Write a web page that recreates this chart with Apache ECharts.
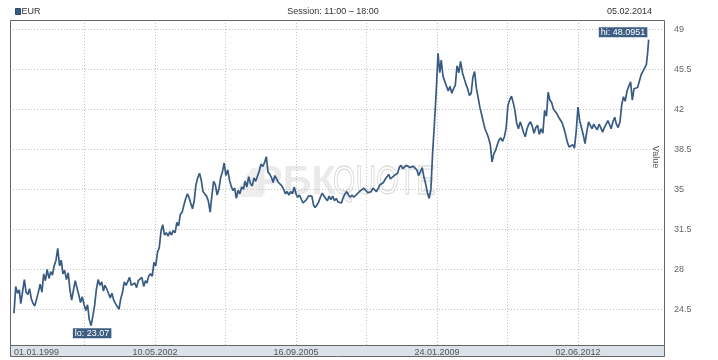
<!DOCTYPE html>
<html><head><meta charset="utf-8">
<script src="https://cdn.jsdelivr.net/npm/echarts@6/dist/echarts.min.js"></script>
<style>html,body{margin:0;padding:0;background:#fff}#c{width:718px;height:360px}</style>
</head><body><div id="c"></div>
<script>
// ---- texts ----
const seriesName = 'EUR';
const sessionText = 'Session: 11:00 \u2013 18:00';
const asOfText = '05.02.2014';
const axisName = 'Value';

// ---- data: semi-monthly closes (1st and 16th of each month) ----
const years = [1999,2000,2001,2002,2003,2004,2005,2006,2007,2008,2009,2010,2011,2012,2013];
const v1999 = [24.15,26.5,25.9,26.2,25.0,26.0,27.1,26.0,25.8,26.3,25.4,25.0,24.8,24.7,26.0,26.7,26.0,27.6,27.0,28.0,27.2,27.8,27.5,28.3];
const v2000 = [28.8,29.84,28.3,28.8,27.6,27.9,27.1,27.7,26.2,25.3,26.2,27.0,26.4,25.8,25.1,25.6,24.9,24.4,24.9,23.6,23.07,23.9,24.8,26.2];
const v2001 = [27.1,26.6,26.9,26.1,26.6,26.3,25.9,25.5,25.9,25.3,25.0,25.1,24.5,25.4,26.0,26.9,26.6,26.7,27.3,26.6,26.5,26.8,26.4,27.0];
const v2002 = [27.0,27.3,26.5,27.0,26.8,27.4,27.6,27.4,28.6,28.3,29.5,29.9,31.3,31.9,31.0,31.2,30.9,31.3,31.0,31.4,31.2,32.1,31.8,32.8];
const v2003 = [33.0,33.6,34.2,34.6,34.3,33.8,33.3,34.0,35.4,36.0,36.4,35.8,34.8,34.6,34.4,34.0,33.0,34.4,35.7,35.4,34.5,35.0,36.0,36.5];
const v2004 = [37.3,36.2,36.7,35.8,35.3,34.9,35.1,34.2,34.9,34.6,35.2,35.0,35.7,35.2,36.1,35.5,35.3,36.0,35.7,35.6,36.6,37.2,37.0,37.3];
const v2005 = [37.85,36.5,36.3,36.0,35.6,36.2,35.9,35.6,35.5,35.3,35.0,34.6,34.8,34.5,34.8,34.6,35.2,34.6,34.3,34.5,34.4,33.8,33.9,34.1];
const v2006 = [34.4,34.3,34.4,33.6,33.4,33.6,33.9,34.3,34.65,34.5,34.2,34.0,34.4,34.1,34.4,34.0,34.2,33.9,34.0,33.8,34.3,34.6,34.8,34.5];
const v2007 = [34.3,34.5,34.3,34.4,34.6,34.6,34.9,35.0,35.1,34.9,34.7,34.6,34.8,35.1,35.2,34.8,35.1,35.4,35.3,35.6,35.9,36.0,36.3,35.9];
const v2008 = [35.8,36.2,36.1,36.4,36.9,37.1,36.8,36.7,37.1,37.2,36.9,36.8,37.0,36.9,36.7,36.2,36.3,36.9,36.1,35.5,34.7,34.2,35.0,38.2];
const v2009 = [40.8,43.5,46.9,45.2,46.3,44.9,45.0,44.0,43.6,44.0,43.4,43.8,44.1,45.8,45.2,46.2,45.2,45.3,44.2,43.8,43.2,43.4,44.8,45.3];
const v2010 = [43.8,43.0,42.1,41.5,40.9,40.3,39.9,39.5,38.9,37.4,38.1,38.4,38.9,39.3,39.5,39.2,39.6,40.4,42.3,42.8,43.15,42.6,41.9,40.8];
const v2011 = [40.3,40.9,40.4,39.9,39.6,40.3,40.7,40.9,40.5,39.9,40.4,40.6,39.8,40.3,39.9,41.9,41.4,43.5,42.8,42.6,42.0,41.8,41.6,41.3];
const v2012 = [41.3,40.8,40.3,39.7,39.1,38.7,38.6,38.9,38.6,40.0,42.2,41.0,40.9,39.8,39.0,40.0,40.9,40.6,40.3,40.7,40.4,40.2,40.7,40.4];
const v2013 = [40.0,40.4,40.7,41.0,40.7,40.3,40.9,41.3,40.7,40.4,40.9,42.4,43.1,42.7,43.6,44.0,44.4,42.8,43.8,43.8,43.9,44.0,45.0,45.3];
const dates2014 = ['2014-01-01','2014-01-16','2014-01-27','2014-02-05'];
const values2014 = [45.2,45.9,46.9,48.0951];

// ---- axis ticks ----
const yTicks = [24.5, 28, 31.5, 35, 38.5, 42, 45.5, 49];
const xGridDates = ['2000-09-04','2002-05-10','2004-01-13','2005-09-16','2007-05-22','2009-01-24','2010-09-28','2012-06-02'];
const xLabelDates = ['1999-01-01','2002-05-10','2005-09-16','2009-01-24','2012-06-02'];
const xLabelTexts = ['01.01.1999','10.05.2002','16.09.2005','24.01.2009','02.06.2012'];

// ---- build series (x = days since first date) ----
const DAY = 86400000;
const parseTs = d => echarts.number.parseDate(d).getTime();
const t0 = parseTs('1999-01-01');
const dayOf = d => Math.round((parseTs(d) - t0) / DAY);

const yearValues = [v1999,v2000,v2001,v2002,v2003,v2004,v2005,v2006,v2007,v2008,v2009,v2010,v2011,v2012,v2013];
const pad = n => (n < 10 ? '0' : '') + n;
const points = [];
years.forEach((y, k) => {
  yearValues[k].forEach((v, i) => {
    points.push([dayOf(y + '-' + pad(Math.floor(i / 2) + 1) + '-' + (i % 2 ? '16' : '01')), v]);
  });
});
dates2014.forEach((d, i) => points.push([dayOf(d), values2014[i]]));

const xMin = -34.75, xMax = 5647.3;
const yMin = 21.377, yMax = 49.81;
const gridDays = xGridDates.map(dayOf);
const labelDays = xLabelDates.map(dayOf);

const FONT = "'Liberation Sans', Arial, sans-serif";
const LINE = '#385b83';
const BOX = '#3d5e82';

const chart = echarts.init(document.getElementById('c'), null, {renderer: 'canvas'});
chart.setOption({
  animation: false,
  grid: {left: 10, top: 20, right: 54, bottom: 15, show: false, containLabel: false, outerBoundsMode: 'none'},
  xAxis: {
    type: 'value', min: xMin, max: xMax,
    axisLine: {show: false},
    axisTick: {show: false, customValues: gridDays},
    splitLine: {show: true, lineStyle: {color: '#c0c0c0', width: 1, type: [1, 2]}},
    axisLabel: {
      customValues: labelDays, margin: 3, fontSize: 9, color: '#555', fontFamily: FONT,
      formatter: function (val) {
        let idx = -1;
        labelDays.forEach((d, i) => { if (Math.abs(d - val) < 0.5) idx = i; });
        const s = idx >= 0 ? xLabelTexts[idx] : '';
        return idx === 0 ? '{first|' + s + '}' : s;
      },
      rich: {first: {padding: [0, 0, 0, 45], fontSize: 9, color: '#555', fontFamily: FONT}}
    }
  },
  yAxis: {
    type: 'value', position: 'right', min: yMin, max: yMax,
    axisLine: {show: false},
    axisTick: {show: false, customValues: yTicks},
    splitLine: {show: true, lineStyle: {color: '#c0c0c0', width: 1, type: [1, 2]}},
    axisLabel: {customValues: yTicks, margin: 10, fontSize: 9, color: '#666', fontFamily: FONT}
  },
  series: [{
    type: 'line', name: seriesName, data: points, showSymbol: false, symbol: 'none',
    lineStyle: {color: LINE, width: 1.7}, z: 5
  }]
});

// lo / hi labels placed via the chart's own scales
let lo = points[0], hi = points[0];
points.forEach(p => { if (p[1] < lo[1]) lo = p; if (p[1] > hi[1]) hi = p; });
const loPx = chart.convertToPixel({gridIndex: 0}, lo);
const hiPx = chart.convertToPixel({gridIndex: 0}, hi);

chart.setOption({
  graphic: [
    {type: 'polygon', z: -5, shape: {points: [[232, 197], [252, 168], [263, 168], [263, 197]]},
     style: {fill: '#efefef'}},
    {type: 'text', z: -5, x: 256, y: 183,
     style: {text: 'РБК', font: 'bold 40px ' + FONT, fill: '#eaeaea', textVerticalAlign: 'middle'}},
    {type: 'text', z: -5, x: 333, y: 183, scaleX: 0.72,
     style: {text: 'QUOTE', font: '40px ' + FONT, fill: 'none', stroke: '#dedede', lineWidth: 1.3, textVerticalAlign: 'middle'}},
    {type: 'rect', z: 10, shape: {x: 10.5, y: 20.5, width: 654, height: 325},
     style: {fill: 'none', stroke: '#666', lineWidth: 1}},
    {type: 'rect', z: -1, shape: {x: 10.5, y: 345.5, width: 654, height: 11},
     style: {fill: '#dae1e8', stroke: '#666', lineWidth: 1}},
    {type: 'rect', z: 10, shape: {x: 15.5, y: 8.5, width: 5, height: 6},
     style: {fill: LINE, stroke: '#2c4666', lineWidth: 1}},
    {type: 'text', z: 10, x: 21.5, y: 12,
     style: {text: seriesName, font: '9px ' + FONT, fill: '#333', textVerticalAlign: 'middle'}},
    {type: 'text', z: 10, x: 333, y: 12,
     style: {text: sessionText, font: '9px ' + FONT, fill: '#333', textAlign: 'center', textVerticalAlign: 'middle'}},
    {type: 'text', z: 10, x: 652, y: 12,
     style: {text: asOfText, font: '9px ' + FONT, fill: '#333', textAlign: 'right', textVerticalAlign: 'middle'}},
    {type: 'text', z: 10, x: 655.5, y: 157, rotation: -Math.PI / 2,
     style: {text: axisName, font: '9px ' + FONT, fill: '#555', textAlign: 'center', textVerticalAlign: 'middle'}},
    {type: 'text', z: 20, x: loPx[0] + 1, y: loPx[1] + 2.5,
     style: {text: 'lo: ' + lo[1], font: '9px ' + FONT, fill: '#fff', backgroundColor: BOX,
             padding: [1, 2, 0, 2], lineHeight: 9, textAlign: 'center', textVerticalAlign: 'top'}},
    {type: 'text', z: 20, x: hiPx[0] - 1.3, y: hiPx[1] - 2.3,
     style: {text: 'hi: ' + hi[1], font: '9px ' + FONT, fill: '#fff', backgroundColor: BOX,
             padding: [1, 2, 0, 2], lineHeight: 9, textAlign: 'right', textVerticalAlign: 'bottom'}}
  ]
});
</script>
</body></html>
